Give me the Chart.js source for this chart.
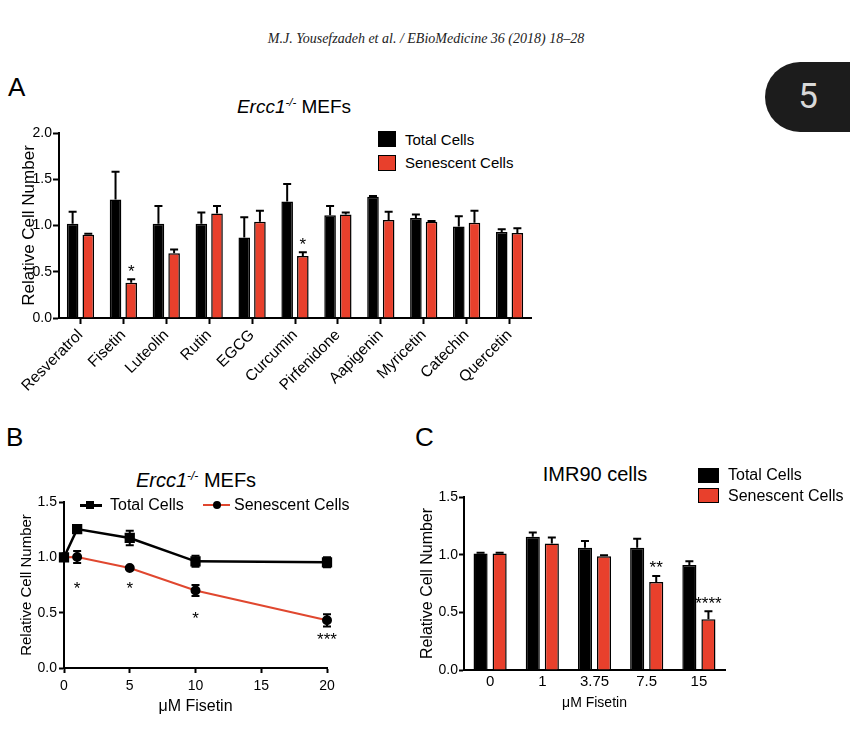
<!DOCTYPE html>
<html>
<head>
<meta charset="utf-8">
<script src="https://cdn.jsdelivr.net/npm/chart.js@4.4.1/dist/chart.umd.min.js"></script>
<style>
  body { margin: 0; background: #fff; }
  #page { position: relative; width: 850px; height: 731px; overflow: hidden; font-family: 'Liberation Sans', Arial, sans-serif; color: #000; }
  canvas { position: absolute; }
  .abs { position: absolute; white-space: nowrap; }
  .header { left: 0; width: 852px; top: 31px; text-align: center; font-family: 'Liberation Serif', serif; font-style: italic; font-size: 14px; color: #222; }
  .badge { left: 765px; top: 62px; width: 110px; height: 70px; border-radius: 35px 0 0 35px; background: #1c1c1c; }
  .badge span { position: absolute; left: 0; width: 86px; text-align: center; line-height: 70px; font-family: Roboto, sans-serif; font-size: 35px; color: #d8d8d8; }
  .letter { font-size: 26px; line-height: 26px; }
  .title { text-align: center; line-height: 20px; }
  .title sup { font-size: 0.6em; line-height: 0; vertical-align: 0.6em; }
  .sq { position: absolute; border: 1.5px solid #000; box-sizing: border-box; }
  .lg { position: absolute; white-space: nowrap; line-height: 20px; }
</style>
</head>
<body>
<div id="page">
  <div class="abs header">M.J. Yousefzadeh et al. / EBioMedicine 36 (2018) 18–28</div>
  <div class="abs badge"><span>5</span></div>

  <!-- Panel A -->
  <div class="abs letter" style="left:8px;top:74px">A</div>
  <div class="abs title" style="left:194px;width:200px;top:97px;font-size:19px"><i>Ercc1<sup>-/-</sup></i> MEFs</div>
  <div class="sq" style="left:378px;top:131px;width:18px;height:16px;background:#000"></div>
  <div class="sq" style="left:378px;top:155px;width:18px;height:16px;background:#e8402c"></div>
  <div class="lg" style="left:405px;top:130px;font-size:15px">Total Cells</div>
  <div class="lg" style="left:405px;top:153px;font-size:15px">Senescent Cells</div>
  <canvas id="chartA" width="560" height="320" style="left:0;top:100px"></canvas>

  <!-- Panel B -->
  <div class="abs letter" style="left:6px;top:424px">B</div>
  <div class="abs title" style="left:96px;width:200px;top:470px;font-size:20px"><i>Ercc1<sup>-/-</sup></i> MEFs</div>
  <canvas id="chartB" width="380" height="260" style="left:0;top:470px"></canvas>
  <div class="abs" style="left:80px;top:504px;width:22px;height:2.5px;background:#000"></div>
  <div class="abs" style="left:86px;top:501px;width:8px;height:8px;background:#000"></div>
  <div class="lg" style="left:110px;top:495px;font-size:16px">Total Cells</div>
  <div class="abs" style="left:203px;top:504px;width:27px;height:2px;background:#e0472f"></div>
  <div class="abs" style="left:213px;top:501px;width:8px;height:8px;border-radius:4px;background:#000"></div>
  <div class="lg" style="left:234px;top:495px;font-size:16px">Senescent Cells</div>

  <!-- Panel C -->
  <div class="abs letter" style="left:415px;top:424px">C</div>
  <div class="abs title" style="left:495px;width:200px;top:464px;font-size:20px">IMR90 cells</div>
  <canvas id="chartC" width="460" height="275" style="left:390px;top:450px"></canvas>
  <div class="sq" style="left:698px;top:468px;width:21px;height:15px;background:#000"></div>
  <div class="sq" style="left:698px;top:488px;width:21px;height:15px;background:#e8402c"></div>
  <div class="lg" style="left:728px;top:465px;font-size:16px">Total Cells</div>
  <div class="lg" style="left:728px;top:486px;font-size:16px">Senescent Cells</div>
</div>

<script>
// Panel A: Ercc1-/- MEFs, compound screen
const compoundLabels = ['Resveratrol', 'Fisetin', 'Luteolin', 'Rutin', 'EGCG', 'Curcumin',
  'Pirfenidone', 'Aapigenin', 'Myricetin', 'Catechin', 'Quercetin'];
const totalA    = [1.02, 1.28, 1.02, 1.02, 0.87, 1.26, 1.11, 1.31, 1.08, 0.99, 0.93];
const totalAErr = [0.13, 0.30, 0.19, 0.12, 0.22, 0.19, 0.10, 0.01, 0.04, 0.11, 0.03];
const senA      = [0.90, 0.38, 0.70, 1.13, 1.04, 0.67, 1.12, 1.06, 1.04, 1.03, 0.92];
const senAErr   = [0.01, 0.04, 0.04, 0.08, 0.12, 0.04, 0.02, 0.09, 0.01, 0.13, 0.05];
const senAStars = ['', '*', '', '', '', '*', '', '', '', '', ''];

// Panel B: Ercc1-/- MEFs, fisetin dose response
const doseB         = [0, 1, 5, 10, 20];
const totalB        = [1.00, 1.255, 1.175, 0.964, 0.955];
const totalBErr     = [0, 0.03, 0.065, 0.05, 0.045];
const senB          = [1.00, 1.003, 0.904, 0.70, 0.431];
const senBErr       = [0, 0.055, 0.01, 0.05, 0.055];
const senBStars     = ['', '*', '*', '*', '***'];
const senBStarLevel = [null, 0.75, 0.75, 0.48, 0.29];

// Panel C: IMR90 cells
const doseC     = ['0', '1', '3.75', '7.5', '15'];
const totalC    = [1.01, 1.155, 1.06, 1.06, 0.91];
const totalCErr = [0.006, 0.037, 0.058, 0.078, 0.032];
const senC      = [1.01, 1.096, 0.986, 0.764, 0.44];
const senCErr   = [0.006, 0.052, 0.009, 0.052, 0.069];
const senCStars = ['', '', '', '**', '****'];

const RED = '#e8402c';
const RED_LINE = '#e0472f';

Chart.defaults.font.family = "'Liberation Sans', Arial, sans-serif";
Chart.defaults.color = '#000';

// error bars (up only for bars, both ways for the line plot) + significance stars
const errorBarPlugin = {
  id: 'errorBars',
  afterDatasetsDraw(chart) {
    const ctx = chart.ctx;
    const yScale = chart.scales.y;
    chart.data.datasets.forEach((ds, i) => {
      const meta = chart.getDatasetMeta(i);
      meta.data.forEach((el, j) => {
        const raw = ds.data[j];
        const v = typeof raw === 'object' ? raw.y : raw;
        const err = ds.errorBars ? ds.errorBars[j] : 0;
        const x = el.x;
        const cap = ds.capHalf || 4;
        const yTop = yScale.getPixelForValue(v + err);
        const yBot = ds.errorBoth ? yScale.getPixelForValue(v - err) : el.y;
        if (err > 0) {
          ctx.save();
          ctx.strokeStyle = '#000';
          ctx.lineWidth = 2;
          ctx.beginPath();
          ctx.moveTo(x, yTop); ctx.lineTo(x, yBot);
          ctx.moveTo(x - cap, yTop); ctx.lineTo(x + cap, yTop);
          if (ds.errorBoth) { ctx.moveTo(x - cap, yBot); ctx.lineTo(x + cap, yBot); }
          ctx.stroke();
          ctx.restore();
        }
        const star = ds.stars ? ds.stars[j] : '';
        if (star) {
          let sy;
          if (ds.starLevels) sy = yScale.getPixelForValue(ds.starLevels[j]);
          else sy = yTop - 11.5;
          ctx.save();
          ctx.fillStyle = '#000';
          ctx.font = "17px 'Liberation Sans', Arial, sans-serif";
          ctx.textAlign = 'center';
          ctx.textBaseline = 'alphabetic';
          const m = ctx.measureText(star);
          ctx.fillText(star, x, sy + (m.actualBoundingBoxAscent - m.actualBoundingBoxDescent) / 2);
          ctx.restore();
        }
      });
    });
  }
};

function axisY(max, width, titleSize, tickLen, tickPad) {
  return {
    min: 0, max: max,
    ticks: { stepSize: 0.5, callback: v => v.toFixed(1), font: { size: 14 }, color: '#000', padding: tickPad },
    grid: { drawOnChartArea: false, tickColor: '#000', tickWidth: 2, tickLength: tickLen },
    border: { color: '#000', width: 2 },
    title: { display: true, text: 'Relative Cell Number', font: { size: titleSize }, color: '#000' },
    afterFit: s => { s.width = width; }
  };
}

// Panel A
new Chart(document.getElementById('chartA'), {
  type: 'bar',
  data: {
    labels: compoundLabels,
    datasets: [
      { label: 'Total Cells', data: totalA, errorBars: totalAErr, backgroundColor: '#000', borderColor: '#000', borderWidth: 1.5 },
      { label: 'Senescent Cells', data: senA, errorBars: senAErr, stars: senAStars, backgroundColor: RED, borderColor: '#000', borderWidth: 1.5 }
    ]
  },
  options: {
    responsive: false,
    animation: false,
    layout: { padding: { left: 15, right: 29, top: 33, bottom: 0 } },
    plugins: { legend: { display: false }, tooltip: { enabled: false } },
    datasets: { bar: { categoryPercentage: 0.73, barPercentage: 0.74 } },
    scales: {
      x: {
        grid: { offset: false, drawOnChartArea: false, tickColor: '#000', tickWidth: 2, tickLength: 6 },
        border: { color: '#000', width: 2 },
        ticks: { color: '#000', font: { size: 15.5 }, minRotation: 45, maxRotation: 45, padding: 2 },
        afterFit: s => { s.height = 102; }
      },
      y: axisY(2, 44, 17, 6, 1)
    }
  },
  plugins: [errorBarPlugin]
});

// Panel B
new Chart(document.getElementById('chartB'), {
  type: 'line',
  data: {
    datasets: [
      { label: 'Total Cells', data: doseB.map((d, i) => ({ x: d, y: totalB[i] })), errorBars: totalBErr, errorBoth: true,
        borderColor: '#000', backgroundColor: '#000', borderWidth: 2.5, pointStyle: 'rect', pointRadius: 5.5, clip: false },
      { label: 'Senescent Cells', data: doseB.map((d, i) => ({ x: d, y: senB[i] })), errorBars: senBErr, errorBoth: true,
        stars: senBStars, starLevels: senBStarLevel,
        borderColor: RED_LINE, backgroundColor: '#000', pointBackgroundColor: '#000', pointBorderColor: '#000',
        borderWidth: 2, pointRadius: 4, clip: false }
    ]
  },
  options: {
    responsive: false,
    animation: false,
    layout: { padding: { left: 14, right: 53, top: 32, bottom: 10 } },
    plugins: { legend: { display: false }, tooltip: { enabled: false } },
    scales: {
      x: {
        type: 'linear', min: 0, max: 20,
        ticks: { stepSize: 5, font: { size: 14 }, color: '#000', padding: 5 },
        grid: { drawOnChartArea: false, tickColor: '#000', tickWidth: 2, tickLength: 5 },
        border: { color: '#000', width: 2 },
        title: { display: true, text: 'μM Fisetin', font: { size: 16 }, color: '#000' },
        afterFit: s => { s.height = 52; }
      },
      y: axisY(1.5, 50, 15, 5, 2)
    }
  },
  plugins: [errorBarPlugin]
});

// Panel C
new Chart(document.getElementById('chartC'), {
  type: 'bar',
  data: {
    labels: doseC,
    datasets: [
      { label: 'Total Cells', data: totalC, errorBars: totalCErr, backgroundColor: '#000', borderColor: '#000', borderWidth: 1.5 },
      { label: 'Senescent Cells', data: senC, errorBars: senCErr, stars: senCStars, backgroundColor: RED, borderColor: '#000', borderWidth: 1.5 }
    ]
  },
  options: {
    responsive: false,
    animation: false,
    layout: { padding: { left: 24, right: 125, top: 47, bottom: 9 } },
    plugins: { legend: { display: false }, tooltip: { enabled: false } },
    datasets: { bar: { categoryPercentage: 0.73, barPercentage: 0.74 } },
    scales: {
      x: {
        grid: { offset: false, drawOnChartArea: false, drawTicks: false },
        border: { color: '#000', width: 2 },
        ticks: { color: '#000', font: { size: 15 }, padding: 3 },
        title: { display: true, text: 'μM Fisetin', font: { size: 14 }, color: '#000' },
        afterFit: s => { s.height = 46; }
      },
      y: axisY(1.5, 50, 16, 5, 1)
    }
  },
  plugins: [errorBarPlugin]
});
</script>
</body>
</html>
